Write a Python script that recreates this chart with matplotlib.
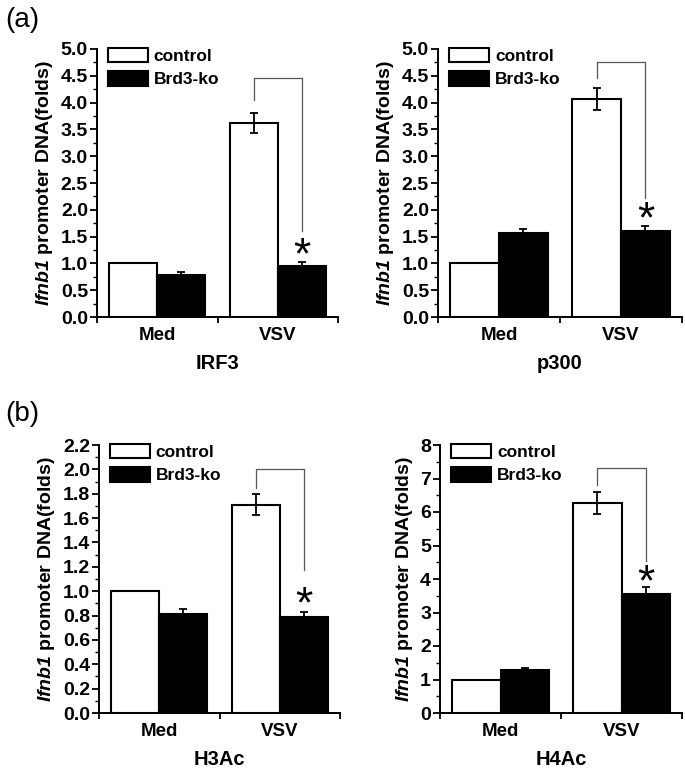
import matplotlib
matplotlib.use('Agg')
import matplotlib.pyplot as plt
from matplotlib.patches import Patch
from matplotlib.ticker import MultipleLocator, FormatStrFormatter
from matplotlib.transforms import offset_copy
import numpy as np

plt.rcParams['font.family'] = ['Liberation Sans', 'DejaVu Sans']
plt.rcParams['font.weight'] = 'bold'
plt.rcParams['mathtext.fontset'] = 'custom'
plt.rcParams['mathtext.rm'] = 'Liberation Sans:bold'
plt.rcParams['mathtext.bfit'] = 'Liberation Sans:italic:bold'

# ---- data ----
groups = ['Med', 'VSV']
targets = ['IRF3', 'p300', 'H3Ac', 'H4Ac']
ctrl_mean = [[1.0, 3.62], [1.0, 4.07], [1.0, 1.71], [1.0, 6.27]]
ctrl_err = [[0.0, 0.18], [0.0, 0.21], [0.0, 0.085], [0.0, 0.32]]
ko_mean = [[0.79, 0.96], [1.57, 1.61], [0.81, 0.79], [1.27, 3.55]]
ko_err = [[0.05, 0.06], [0.08, 0.08], [0.04, 0.04], [0.07, 0.20]]
# significance bracket: left leg bottom, top, right leg bottom, star centre
brackets = [[4.05, 4.45, 1.60, 1.29],
            [4.45, 4.75, 2.22, 1.96],
            [1.85, 2.00, 1.17, 0.95],
            [6.80, 7.30, 4.55, 4.12]]
ymax = [5.0, 5.0, 2.2, 8.0]
ystep = [0.5, 0.5, 0.2, 1.0]
yfmt = ['%.1f', '%.1f', '%.1f', '%d']

fig = plt.figure(figsize=(6.85, 7.69), dpi=100)
W, H = 685, 769
boxes = [(97, 338, 49, 317), (438, 682, 49, 317),
         (99, 340, 445, 713), (440, 682, 445, 713)]

x = np.arange(len(groups))
bw = 0.4
star_fs = 32
for i, (x0, x1, y0, y1) in enumerate(boxes):
    ax = fig.add_axes([x0 / W, 1 - y1 / H, (x1 - x0) / W, (y1 - y0) / H])
    ax.bar(x - bw / 2, ctrl_mean[i], bw, color='white', edgecolor='black',
           linewidth=1.5, zorder=2)
    ax.bar(x + bw / 2, ko_mean[i], bw, color='black', edgecolor='black',
           linewidth=1.5, zorder=2)
    ce = np.array(ctrl_err[i])
    m = ce > 0
    ax.errorbar((x - bw / 2)[m], np.array(ctrl_mean[i])[m], yerr=ce[m],
                fmt='none', ecolor='black', elinewidth=1.3, capsize=3,
                capthick=1.3, zorder=3)
    ax.errorbar(x + bw / 2, ko_mean[i], yerr=ko_err[i], fmt='none',
                ecolor='black', elinewidth=1.3, capsize=3, capthick=1.3,
                zorder=3)

    lb, top, rb, sy = brackets[i]
    xl, xr = 1 - bw / 2, 1 + bw / 2
    ax.plot([xl, xl, xr, xr], [lb, top, top, rb], color='#555555',
            lw=0.9, zorder=3)
    tr = offset_copy(ax.transData, fig=fig, y=-6.5, units='points')
    ax.text(xr, sy, '*', ha='center', va='center', fontsize=star_fs,
            fontweight='normal', color='black', transform=tr)

    ax.set_xlim(-0.5, 1.5)
    ax.set_ylim(0, ymax[i])
    ax.set_xticks(x)
    ax.set_xticklabels(groups, fontsize=13.5, fontweight='bold')
    ax.set_xticks([-0.5, 0.5, 1.5], minor=True)
    ax.tick_params(axis='x', which='major', length=0, pad=7)
    ax.tick_params(axis='x', which='minor', length=4, width=1.3,
                   direction='out')
    ax.yaxis.set_major_locator(MultipleLocator(ystep[i]))
    ax.yaxis.set_minor_locator(MultipleLocator(ystep[i] / 2))
    ax.yaxis.set_major_formatter(FormatStrFormatter(yfmt[i]))
    ax.tick_params(axis='y', which='major', length=5, width=1.3,
                   direction='out', labelsize=14, pad=1.5)
    ax.tick_params(axis='y', which='minor', length=3, width=1.0,
                   direction='out')
    for lab in ax.get_yticklabels():
        lab.set_fontweight('bold')
    for s in ['top', 'right']:
        ax.spines[s].set_visible(False)
    for s in ['left', 'bottom']:
        ax.spines[s].set_linewidth(1.4)

    ax.set_ylabel(r'$\mathbfit{Ifnb1}$ promoter DNA(folds)', fontsize=14,
                  fontweight='bold', labelpad=4)
    ax.text(0.5, -0.175, targets[i], transform=ax.transAxes, ha='center',
            va='center', fontsize=14.5, fontweight='bold')

    handles = [Patch(facecolor='white', edgecolor='black', linewidth=1.5),
               Patch(facecolor='black', edgecolor='black', linewidth=1.5)]
    ax.legend(handles, ['control', 'Brd3-ko'], loc='upper left',
              bbox_to_anchor=(0.045, 1.005), frameon=False,
              handlelength=2.3, handleheight=0.92, handletextpad=0.35,
              labelspacing=0.4, borderpad=0, borderaxespad=0,
              prop={'weight': 'bold', 'size': 12.5})

fig.text(5 / W, 1 - 20 / H, '(a)', fontsize=20, fontweight='normal',
         ha='left', va='center')
fig.text(5 / W, 1 - 414 / H, '(b)', fontsize=20, fontweight='normal',
         ha='left', va='center')

fig.savefig('out.png', dpi=100, facecolor='white')
